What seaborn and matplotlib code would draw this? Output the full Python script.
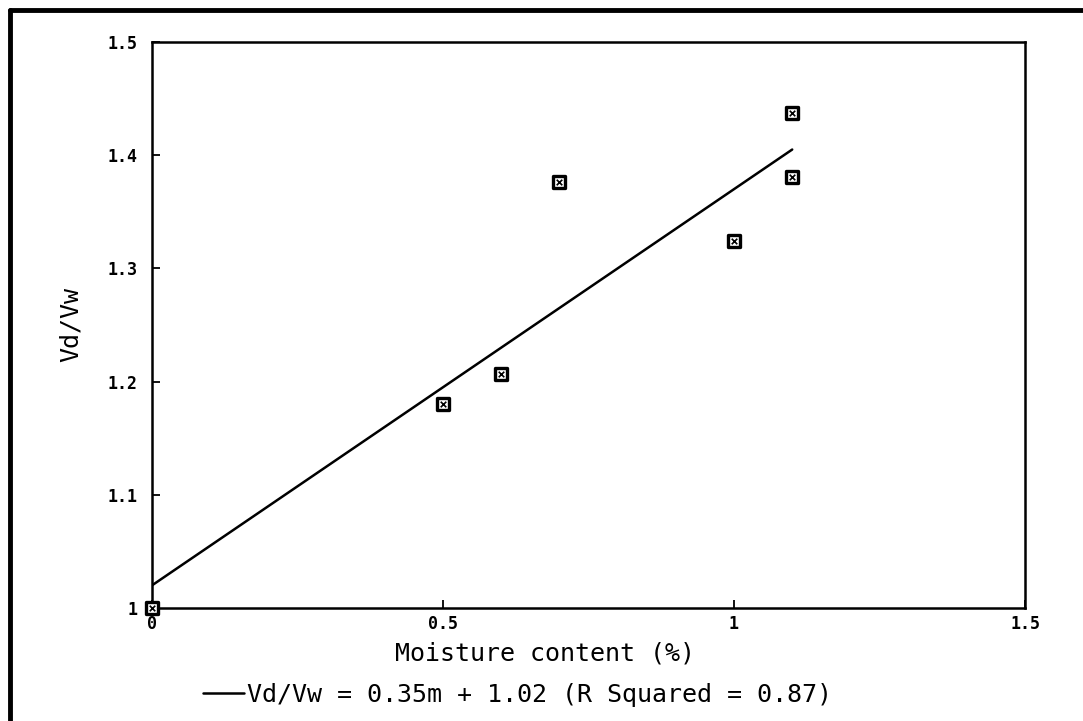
import matplotlib
matplotlib.use("Agg")
import matplotlib.pyplot as plt
from matplotlib.lines import Line2D
import seaborn as sns
import pandas as pd

# Data
moisture = [0.0, 0.5, 0.6, 0.7, 1.0, 1.1, 1.1]
ratio = [1.0, 1.18, 1.207, 1.376, 1.324, 1.437, 1.381]
fit_slope = 0.35
fit_intercept = 1.02
fit_x = [0.0, 1.1]
x_ticks = [0, 0.5, 1, 1.5]
x_tick_labels = ["0", "0.5", "1", "1.5"]
y_ticks = [1.0, 1.1, 1.2, 1.3, 1.4, 1.5]
y_tick_labels = ["1", "1.1", "1.2", "1.3", "1.4", "1.5"]
legend_label = "Vd/Vw = 0.35m + 1.02 (R Squared = 0.87)"

sns.set_style("ticks")
plt.rcParams['font.family'] = ['DejaVu Sans']
plt.rcParams['text.color'] = 'black'
plt.rcParams['axes.labelcolor'] = 'black'

W, H = 1083, 721
fig = plt.figure(figsize=(10.83, 7.21), dpi=100)
ax = fig.add_axes([152/W, 1-608/H, (1025-152)/W, (608-42)/H])

df = pd.DataFrame({"m": moisture, "r": ratio})
fit_df = pd.DataFrame({"m": fit_x, "r": [fit_intercept + fit_slope * v for v in fit_x]})

sns.lineplot(data=fit_df, x="m", y="r", ax=ax, color="black", linewidth=1.8, legend=False)
sns.scatterplot(data=df, x="m", y="r", ax=ax, marker="s", s=64,
                facecolor="white", edgecolor="black", linewidth=2.4, zorder=3,
                clip_on=False, legend=False)
sns.scatterplot(data=df, x="m", y="r", ax=ax, marker="x", s=16,
                color="black", linewidth=1.2, zorder=4, clip_on=False, legend=False)
if ax.get_legend() is not None:
    ax.get_legend().remove()

ax.set_xlim(0, 1.5)
ax.set_ylim(1.0, 1.5)
ax.set_xticks(x_ticks)
ax.set_xticklabels(x_tick_labels)
ax.set_yticks(y_ticks)
ax.set_yticklabels(y_tick_labels)
ax.tick_params(axis="both", direction="in", length=6, width=1.3, colors="black",
               labelsize=12)
ax.tick_params(axis="x", pad=5)
ax.tick_params(axis="y", pad=10.5)
for lab in ax.get_xticklabels() + ax.get_yticklabels():
    lab.set_fontweight("bold")
    lab.set_family("DejaVu Sans Mono")
    lab.set_fontsize(12)
    lab.set_color("black")
for sp in ax.spines.values():
    sp.set_visible(True)
    sp.set_linewidth(1.8)
    sp.set_color("black")

ax.set_xlabel("Moisture content (%)", fontsize=18, family="DejaVu Sans Mono", color="black")
ax.xaxis.label.set_va("center")
ax.xaxis.set_label_coords((545-152)/(1025-152), (608-653)/(608-42))
ax.set_ylabel("Vd/Vw", fontsize=18, family="DejaVu Sans Mono", color="black")
ax.yaxis.label.set_va("center")
ax.yaxis.set_label_coords((71-152)/(1025-152), (608-324)/(608-42))

handles = [Line2D([0], [0], color="black", linewidth=1.8)]
leg = fig.legend(handles, [legend_label], loc="center left", bbox_to_anchor=(203/W, 1-695/H),
                 frameon=False, handlelength=1.65, handletextpad=0.1, borderpad=0,
                 borderaxespad=0, prop={"family": "DejaVu Sans Mono", "size": 18})
for t in leg.get_texts():
    t.set_color("black")

# outer frame (scanned page border)
fig.add_artist(Line2D([10/W, 10/W], [0, 1-10/H], color="black", linewidth=3.5,
                      transform=fig.transFigure))
fig.add_artist(Line2D([10/W, 1.0], [1-10/H, 1-10/H], color="black", linewidth=3.5,
                      transform=fig.transFigure))

fig.savefig("out.png", dpi=100)
